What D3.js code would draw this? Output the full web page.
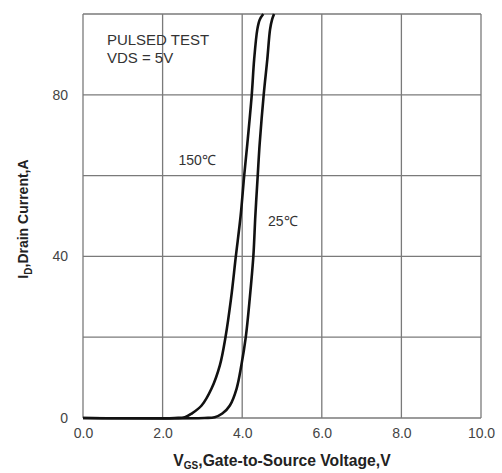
<!DOCTYPE html>
<html>
<head>
<meta charset="utf-8">
<script src="https://cdn.jsdelivr.net/npm/d3@7"></script>
<style>
  body { margin: 0; background: #fff; }
  svg { display: block; font-family: "Liberation Sans", Arial, sans-serif; }
  .grid line { stroke: #7a7a7a; stroke-width: 1.3; }
  .tick text { fill: #444; font-size: 14px; }
  .curve { fill: none; stroke: #111; stroke-width: 2.6; }
</style>
</head>
<body>
<svg id="chart" width="502" height="473"></svg>
<script>
// transfer characteristics, values
const vgs150 = [0, 2.3, 2.56, 2.73, 2.98, 3.23, 3.44, 3.58, 3.72, 3.84, 3.96, 4.05, 4.13, 4.24, 4.30, 4.38, 4.44, 4.53];
const id150  = [0, 0,   0.2,  1.1,  3.1,  7.3,  13.1, 20,   29.6, 40,   50,   60,   68,   80,   88.7, 96.2, 98.6, 100];
const vgs25  = [0, 3.05, 3.31, 3.50, 3.69, 3.86, 3.98, 4.09, 4.19, 4.28, 4.33, 4.39, 4.44, 4.54, 4.63, 4.70, 4.75, 4.80];
const id25   = [0, 0,    0.2,  1.1,  3.1,  7.3,  13.1, 20,   29.6, 40,   50,   60,   68,   80,   88.7, 96.2, 98.6, 100];

const xTicks = [0, 2, 4, 6, 8, 10];
const yGrid = [0, 20, 40, 60, 80, 100];
const yLabels = [0, 40, 80];

const margin = {top: 14, right: 21, bottom: 55, left: 83};
const svg = d3.select("#chart");
const width = +svg.attr("width") - margin.left - margin.right;
const height = +svg.attr("height") - margin.top - margin.bottom;

const chartGroup = svg.append("g")
  .attr("transform", `translate(${margin.left}, ${margin.top})`);

let x = d3.scaleLinear().domain([0, 10]).range([0, width]);
let y = d3.scaleLinear().domain([0, 100]).range([height, 0]);

// grid
chartGroup.append("g")
  .classed("grid", true)
  .selectAll("line")
  .data(xTicks)
  .join("line")
  .attr("x1", d => x(d)).attr("x2", d => x(d))
  .attr("y1", 0).attr("y2", height);

chartGroup.append("g")
  .classed("grid", true)
  .selectAll("line")
  .data(yGrid)
  .join("line")
  .attr("y1", d => y(d)).attr("y2", d => y(d))
  .attr("x1", 0).attr("x2", width);

// axes (labels only)
let bottomAxis = d3.axisBottom(x).tickValues(xTicks).tickSize(0).tickPadding(10)
  .tickFormat(d3.format(".1f"));
let leftAxis = d3.axisLeft(y).tickValues(yLabels).tickSize(0).tickPadding(15);

chartGroup.append("g")
  .attr("transform", `translate(0, ${height})`)
  .call(bottomAxis)
  .call(g => g.select(".domain").remove());

chartGroup.append("g")
  .call(leftAxis)
  .call(g => g.select(".domain").remove());

// curves
let lineGen = d3.line()
  .x(d => x(d[0]))
  .y(d => y(d[1]))
  .curve(d3.curveCatmullRom.alpha(0.5));

chartGroup.append("path")
  .attr("d", lineGen(d3.zip(vgs150, id150)))
  .classed("curve", true);

chartGroup.append("path")
  .attr("d", lineGen(d3.zip(vgs25, id25)))
  .classed("curve", true);

// annotations
chartGroup.append("text")
  .attr("x", x(0.6)).attr("y", 31)
  .attr("fill", "#333").style("font-size", "15px")
  .text("PULSED TEST");
chartGroup.append("text")
  .attr("x", x(0.6)).attr("y", 49)
  .attr("fill", "#333").style("font-size", "15px")
  .text("VDS = 5V");

chartGroup.append("text")
  .attr("x", x(2.4)).attr("y", y(64) + 6)
  .attr("fill", "#333").style("font-size", "14px")
  .text("150\u2103");
chartGroup.append("text")
  .attr("x", x(4.65)).attr("y", y(49) + 6)
  .attr("fill", "#333").style("font-size", "14px")
  .text("25\u2103");

// axis titles
const xTitle = svg.append("text")
  .attr("x", margin.left + width / 2)
  .attr("y", 466)
  .attr("text-anchor", "middle")
  .attr("fill", "#222")
  .style("font-size", "15.7px").style("font-weight", "bold");
xTitle.append("tspan").text("V");
xTitle.append("tspan").attr("dy", 3).style("font-size", "10px").text("GS");
xTitle.append("tspan").attr("dy", -3).text(",Gate-to-Source Voltage,V");

const yTitle = svg.append("text")
  .attr("transform", `translate(28, ${margin.top + y(50) + 3}) rotate(-90)`)
  .attr("text-anchor", "middle")
  .attr("fill", "#222")
  .style("font-size", "14px").style("font-weight", "bold");
yTitle.append("tspan").text("I");
yTitle.append("tspan").attr("dy", 4).style("font-size", "10px").text("D");
yTitle.append("tspan").attr("dy", -4).text(",Drain Current,A");
</script>
</body>
</html>
